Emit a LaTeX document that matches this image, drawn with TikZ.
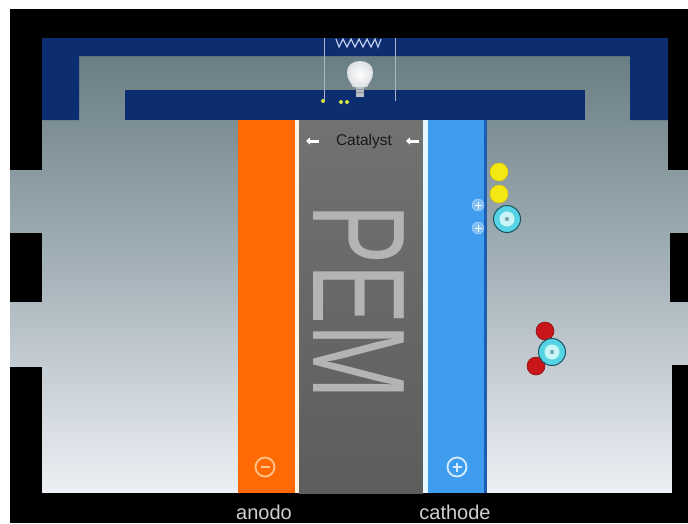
\documentclass[tikz,border=0pt]{standalone}
\usepackage{fontspec}
\setmainfont{Liberation Sans}
\usetikzlibrary{arrows.meta}
\definecolor{band}{HTML}{0C2D70}
\definecolor{anodeor}{HTML}{FF6A05}
\definecolor{anodeline}{HTML}{FFF3E6}
\definecolor{cathbl}{HTML}{3F9DEF}
\definecolor{cathedge}{HTML}{1C5FB2}
\definecolor{cathline}{HTML}{E6F7FF}
\definecolor{wire}{HTML}{A9B4C6}
\definecolor{coil}{HTML}{BCCBEA}
\definecolor{oxy}{HTML}{56D3E4}
\definecolor{oxyin}{HTML}{C9F5F9}
\definecolor{oxyedge}{HTML}{1B5360}
\definecolor{oxydot}{HTML}{7FA8AE}
\definecolor{hyd}{HTML}{C8161A}
\definecolor{hydedge}{HTML}{8C0F12}
\definecolor{elec}{HTML}{F4E812}
\definecolor{elecedge}{HTML}{E0C80C}
\definecolor{gastop}{HTML}{647A7F}
\definecolor{gasmid}{HTML}{A4B1B8}
\definecolor{gasbot}{HTML}{EDF0F5}
\definecolor{pemtop}{HTML}{727272}
\definecolor{pembot}{HTML}{5D5D5D}
\definecolor{pemtext}{HTML}{B4B4B4}
\definecolor{cattext}{HTML}{1A1A1A}
\definecolor{bulbbase}{HTML}{B9BFC4}
\definecolor{bulbring}{HTML}{8E969C}
\definecolor{bulbedge}{HTML}{DDE0E4}
\definecolor{spark}{HTML}{D8E23A}
\definecolor{minuscol}{HTML}{FFC48A}
\definecolor{pluscol}{HTML}{D6ECFF}
\definecolor{labelcol}{HTML}{D0D0D0}
\tikzset{
  frame/.style={fill=black},
  channel/.style={fill=band},
  wireline/.style={draw=wire, line width=0.9pt},
  sign/.style={circle, draw, line width=1.8pt, minimum size=19pt, inner sep=0pt},
  label/.style={text=labelcol, font=\fontsize{20}{20}\selectfont, inner sep=0pt},
  oxygen/.style={circle, fill=oxy, draw=oxyedge, line width=1pt, minimum size=27pt, inner sep=0pt},
  hydrogen/.style={circle, fill=hyd, draw=hydedge, line width=0.6pt, minimum size=18pt, inner sep=0pt},
  electron/.style={circle, fill=elec, draw=elecedge, line width=0.6pt, minimum size=18pt, inner sep=0pt},
  proton/.style={circle, fill=white, fill opacity=0.35, draw=white, draw opacity=0.5, minimum size=12pt, inner sep=0pt},
  catarrow/.style={white, line width=3pt, -{Triangle[length=4pt,width=7pt]}}
}
\begin{document}
\begin{tikzpicture}[x=1pt,y=-1pt]
\useasboundingbox (0,0) rectangle (688,523);
\fill[white] (0,0) rectangle (688,523);

% housing interior with vertical gradient
\shade[top color=gastop, bottom color=gasbot, middle color=gasmid]
  (10,38) rectangle (688,493);

% outer black casing
\fill[frame] (10,9) rectangle (688,38);
\fill[frame] (10,9) rectangle (42,170);
\fill[frame] (10,233) rectangle (42,302);
\fill[frame] (10,367) rectangle (42,523);
\fill[frame] (10,493) rectangle (688,523);
\fill[frame] (668,9) rectangle (688,170);
\fill[frame] (670,233) rectangle (688,302);
\fill[frame] (672,365) rectangle (688,523);

% gas channels
\fill[channel] (42,38) -- (668,38) -- (668,120) -- (630,120) -- (630,56)
  -- (79,56) -- (79,120) -- (42,120) -- cycle;
\fill[channel] (125,90) rectangle (585,120);

% external circuit
\draw[wireline] (324,38) -- (324,101);
\draw[wireline] (395,38) -- (395,101);
\draw[draw=coil, line width=1.2pt, line join=miter]
  (336,39) -- (339,47) -- (343,39) -- (347,47) -- (351,39) -- (355,47) -- (359,39)
  -- (363,47) -- (367,39) -- (371,47) -- (375,39) -- (378,47) -- (381,39);

% light bulb
\fill[bulbbase] (356,85) rectangle (364,97);
\draw[bulbring, line width=0.6pt] (356,89) -- (364,89) (356,92) -- (364,92);
\shade[inner color=white, outer color=bulbedge]
  (353,87) .. controls (350,81) and (347,79) .. (347,72)
  .. controls (347,65) and (353,61) .. (360,61)
  .. controls (367,61) and (373,65) .. (373,72)
  .. controls (373,79) and (370,81) .. (367,87) -- cycle;
\fill[spark] (323,101) circle (2);
\fill[spark] (341,102) circle (2);
\fill[spark] (347,102) circle (2);

% anode
\fill[anodeor] (238,120) rectangle (295,493);
\fill[anodeline] (295,120) rectangle (299,493);
% membrane
\shade[top color=pemtop, bottom color=pembot] (299,120) rectangle (423,493);
% cathode
\fill[cathline] (423,120) rectangle (428,493);
\fill[cathbl] (428,120) rectangle (484,493);
\fill[cathedge] (484,120) rectangle (487,493);

% membrane lettering
\node[rotate=-90, anchor=base, inner sep=0pt, text=pemtext,
      font=\fontsize{132}{132}\selectfont] (pem) at (313,302)
  {\scalebox{0.68}[1]{PEM}};

% catalyst caption
\node[font=\fontsize{15.5}{15.5}\selectfont, text=cattext, inner sep=0pt] (cat) at (364,141) {Catalyst};
\coordinate (cl1) at (319,141);
\coordinate (cl2) at (306,141);
\coordinate (cr1) at (419,141);
\coordinate (cr2) at (406,141);
\draw[catarrow] (cl1) -- (cl2);
\draw[catarrow] (cr1) -- (cr2);

% electrode signs
\node[sign, draw=minuscol] (minus) at (265,467) {};
\draw[minuscol, line width=2.2pt] ([xshift=-4.5pt]minus.center) -- ([xshift=4.5pt]minus.center);
\node[sign, draw=pluscol] (plus) at (457,467) {};
\draw[pluscol, line width=2.2pt] ([xshift=-4.5pt]plus.center) -- ([xshift=4.5pt]plus.center)
  ([yshift=-4.5pt]plus.center) -- ([yshift=4.5pt]plus.center);

% electrons and protons arriving at the cathode
\node[electron] (e1) at (499,172) {};
\node[electron] (e2) at (499,194) {};
\node[proton] (p1) at (478,205) {};
\node[proton] (p2) at (478,228) {};
\foreach \p in {p1,p2}
  \draw[white, line width=1pt] ([xshift=-3.5pt]\p.center) -- ([xshift=3.5pt]\p.center)
    ([yshift=-3.5pt]\p.center) -- ([yshift=3.5pt]\p.center);
\node[oxygen] (o1) at (507,219) {};
\fill[oxyin] (o1.center) circle (7.5);
\fill[oxydot] (o1.center) circle (2.2);

% water molecule
\node[hydrogen] (h1) at (545,331) {};
\node[hydrogen] (h2) at (536,366) {};
\node[oxygen] (o2) at (552,352) {};
\fill[oxyin] (o2.center) circle (7.5);
\fill[oxydot] (o2.center) circle (2.2);

% electrode names
\node[label] (an) at (264,512) {anodo};
\node[label] (ca) at (455,512) {cathode};
\end{tikzpicture}
\end{document}
